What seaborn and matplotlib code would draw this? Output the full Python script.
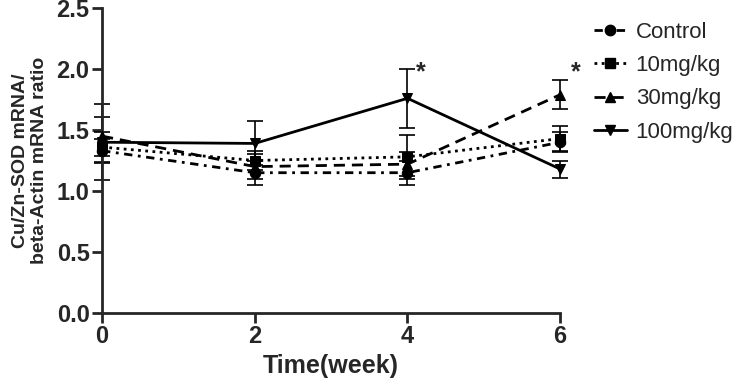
import numpy as np
import pandas as pd
import matplotlib
matplotlib.use("Agg")
import matplotlib.pyplot as plt
from matplotlib.lines import Line2D
import seaborn as sns

# ── Data ──────────────────────────────────────────────────────────────────────
weeks = [0, 2, 4, 6]
groups = ["Control", "10mg/kg", "30mg/kg", "100mg/kg"]

control_mean = [1.33, 1.15, 1.15, 1.40]
control_err = [0.10, 0.10, 0.10, 0.08]
mg10_mean = [1.36, 1.25, 1.28, 1.43]
mg10_err = [0.12, 0.08, 0.18, 0.10]
mg30_mean = [1.45, 1.20, 1.22, 1.79]
mg30_err = [0.16, 0.10, 0.10, 0.12]
mg100_mean = [1.40, 1.39, 1.76, 1.18]
mg100_err = [0.31, 0.18, 0.24, 0.07]

star_x = [4.17, 6.2]
star_y = [1.97, 1.97]

# ── Styling ───────────────────────────────────────────────────────────────────
markers = {"Control": "o", "10mg/kg": "s", "30mg/kg": "^", "100mg/kg": "v"}
dashes = {"Control": (3, 2, 1, 2), "10mg/kg": (1, 1.6),
          "30mg/kg": (4, 2.5), "100mg/kg": ""}

means = dict(zip(groups, [control_mean, mg10_mean, mg30_mean, mg100_mean]))
errs = dict(zip(groups, [control_err, mg10_err, mg30_err, mg100_err]))

rows = []
for g in groups:
    for w, m, e in zip(weeks, means[g], errs[g]):
        rows.append({"Week": w, "Ratio": m, "Err": e, "Group": g})
df = pd.DataFrame(rows)

sns.set_theme(style="ticks")
plt.rcParams["font.family"] = ["Liberation Sans", "DejaVu Sans"]

fig = plt.figure(figsize=(7.4, 3.84), dpi=100)
ax = fig.add_axes([0.138, 0.185, 0.619, 0.794])

for g in groups:
    sub = df[df["Group"] == g]
    ax.errorbar(sub["Week"], sub["Ratio"], yerr=sub["Err"], fmt="none",
                ecolor="black", elinewidth=1.2, capsize=6, capthick=1.2,
                zorder=2, clip_on=False)

sns.lineplot(data=df, x="Week", y="Ratio", style="Group", style_order=groups,
             markers=markers, dashes=dashes, color="black", linewidth=2,
             markersize=7.5, markeredgecolor="black", legend=False, ax=ax,
             zorder=3, clip_on=False)

for sx, sy in zip(star_x, star_y):
    ax.text(sx, sy, "*", fontsize=18, fontweight="bold", ha="center",
            va="center", clip_on=False)

ax.set_xlim(0, 6)
ax.set_ylim(0, 2.5)
ax.set_xticks(weeks)
ax.set_yticks([0.0, 0.5, 1.0, 1.5, 2.0, 2.5])
ax.set_yticklabels(["0.0", "0.5", "1.0", "1.5", "2.0", "2.5"])
ax.tick_params(axis="both", direction="out", length=7, width=2,
               labelsize=17, pad=2)
for lab in ax.get_xticklabels() + ax.get_yticklabels():
    lab.set_fontweight("bold")
for side in ["left", "bottom"]:
    ax.spines[side].set_linewidth(2)
sns.despine(ax=ax)

ax.set_xlabel("Time(week)", fontsize=18, fontweight="bold", labelpad=4)
ax.set_ylabel("Cu/Zn-SOD mRNA/\nbeta-Actin mRNA ratio", fontsize=14,
              fontweight="bold", labelpad=6)

handles = [Line2D([0], [0], color="black", marker=markers[g], linewidth=2,
                  markersize=7.5,
                  linestyle=(0, dashes[g]) if dashes[g] else "-")
           for g in groups]
fig.legend(handles, groups, loc="upper left", bbox_to_anchor=(0.775, 0.995),
           frameon=False, fontsize=16, handlelength=1.5, handletextpad=0.4,
           labelspacing=0.55)

fig.savefig("out.png", dpi=100)
